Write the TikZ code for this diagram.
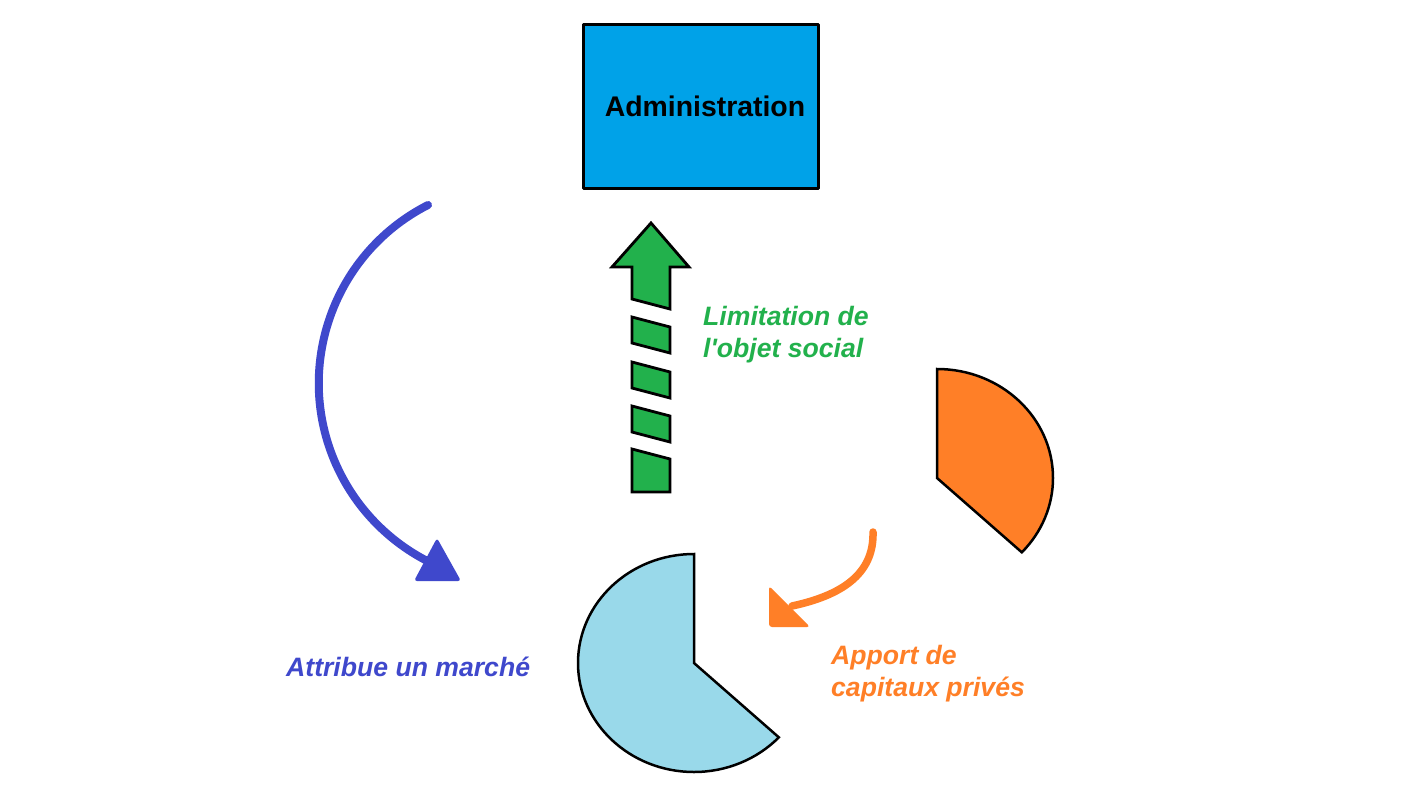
\documentclass[tikz,border=0pt]{standalone}
\usepackage{fontspec}
\setmainfont{Liberation Sans}
\usetikzlibrary{positioning}
\definecolor{admBlue}{HTML}{00A2E8}
\definecolor{mktBlue}{HTML}{3F48CC}
\definecolor{objGreen}{HTML}{22B14C}
\definecolor{capOrange}{HTML}{FF7F27}
\definecolor{pieBlue}{HTML}{99D9EA}
\begin{document}
\begin{tikzpicture}[x=1pt,y=-1pt,line cap=round,line join=round]
\path[fill=white] (0,0) rectangle (1428,800);
\tikzset{adminbox/.style={draw=black,fill=admBlue,line width=3pt,minimum width=235pt,minimum height=163pt,font=\fontsize{28.4}{32}\selectfont\bfseries},
  label/.style={inner sep=0pt,align=left,font=\fontsize{26.6}{32}\selectfont\bfseries\itshape},
  piepart/.style={draw=black,line width=2.5pt,line join=miter},
  greenblock/.style={draw=black,fill=objGreen,line width=2.8pt,line join=miter}}
\node[adminbox] (admin) at (700.5,106.5) {\hspace*{9pt}Administration};
% attribue un marche
\coordinate (attrStart) at (428,205);
\draw[draw=mktBlue,line width=8pt] (attrStart) arc[start angle=243,end angle=117,radius=200] coordinate (attrEnd);
\fill[mktBlue,rounded corners=3pt] (437,538) -- (461,581) -- (414,581) -- cycle;
\node[label,text=mktBlue,anchor=base west] (attrText) at (286,676) {Attribue un marché};
% limitation de l'objet social
\filldraw[greenblock] (632,299) -- (632,267) -- (612,267) -- (651,223) -- (689,267) -- (670,267) -- (670,309) -- cycle;
\foreach \t in {317,362,406} \filldraw[greenblock] (632,\t) -- (670,\t+10) -- (670,\t+36) -- (632,\t+26) -- cycle;
\filldraw[greenblock] (632,449) -- (670,459) -- (670,492) -- (632,492) -- cycle;
\node[label,text=objGreen,anchor=north west] (objText) at (703,306) {Limitation de\\l\textquotesingle objet social};
% apport de capitaux prives
\filldraw[piepart,fill=pieBlue] (694,663) -- (694,554) arc[start angle=270,end angle=43,x radius=116,y radius=109] -- cycle;
\filldraw[piepart,fill=capOrange] (937,478) -- (937,369) arc[start angle=270,end angle=403,x radius=116,y radius=109] -- cycle;
\coordinate (capStart) at (873,532);
\draw[draw=capOrange,line width=7.5pt] (capStart) .. controls (874,570) and (848,594) .. (792,606) coordinate (capEnd);
\fill[capOrange,rounded corners=3pt] (769,586) -- (810,627) -- (769,627) -- cycle;
\node[label,text=capOrange,anchor=north west] (capText) at (831,645) {Apport de\\capitaux privés};
\end{tikzpicture}
\end{document}
